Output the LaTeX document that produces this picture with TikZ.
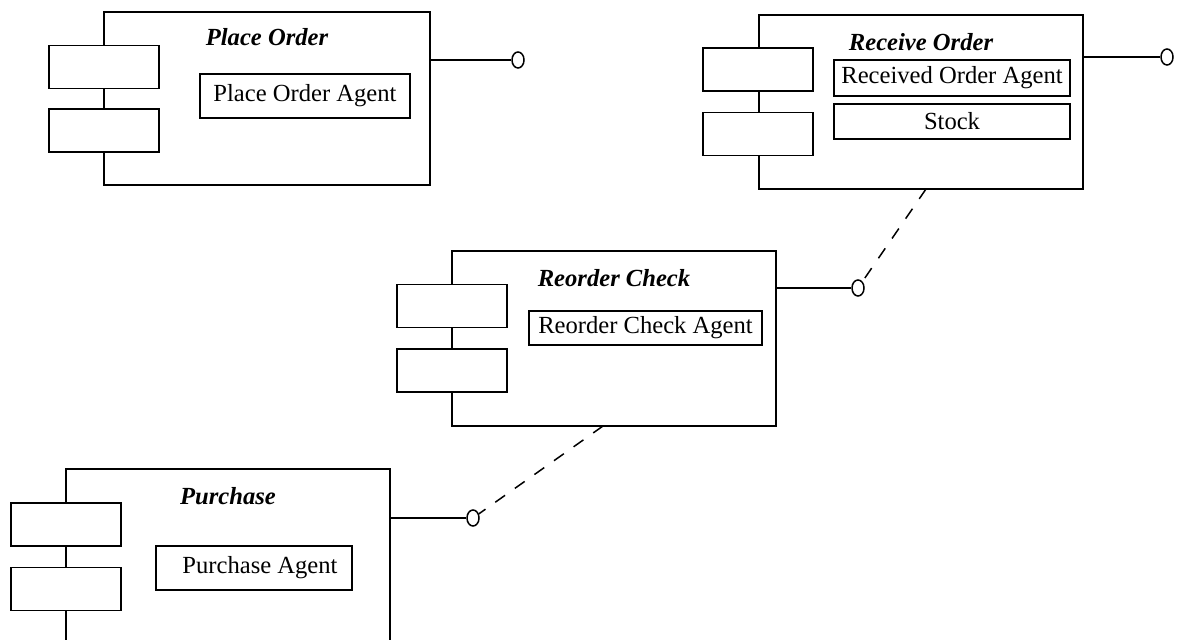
\documentclass[tikz,border=0pt]{standalone}
\usepackage{fontspec}
\setmainfont{Liberation Serif}
\usetikzlibrary{shapes.geometric}
\begin{document}
\begin{tikzpicture}[x=0.5pt,y=-0.5pt,
  line width=0.75pt,
  every node/.style={font=\fontsize{12.3}{14}\selectfont},
  compbox/.style={draw, rectangle, inner sep=0pt},
  tabbox/.style={draw, fill=white, rectangle, inner sep=0pt,
                 minimum width=55pt, minimum height=21.5pt},
  partbox/.style={draw, rectangle, inner sep=0pt},
  comptitle/.style={inner sep=0pt, font=\fontsize{12.3}{14}\selectfont\bfseries\itshape},
  portdot/.style={draw, ellipse, inner sep=0pt, minimum width=6pt, minimum height=8pt},
  depline/.style={dash pattern=on 6pt off 6pt}]

\useasboundingbox (0,0) rectangle (1181,640);

% --- Place Order component ---
\node[compbox, minimum width=163pt, minimum height=86.5pt] (po) at (267,98.5) {};
\node[tabbox] (po-t1) at (104,67) {};
\node[tabbox] (po-t2) at (104,130.5) {};
\node[comptitle] (po-name) at (267,37) {Place Order};
\node[partbox, minimum width=105pt, minimum height=22pt] (po-agent) at (305,96) {Place Order Agent};
\node[portdot] (po-port) at (518,60) {};
\draw (po.east |- po-port) -- (po-port);

% --- Receive Order component ---
\node[compbox, minimum width=162pt, minimum height=87pt] (ro) at (921,102) {};
\node[tabbox] (ro-t1) at (758,69.5) {};
\node[tabbox] (ro-t2) at (758,134) {};
\node[comptitle] (ro-name) at (921,42) {Receive Order};
\node[partbox, minimum width=118pt, minimum height=18pt] (ro-agent) at (952,78) {Received Order Agent};
\node[partbox, minimum width=118pt, minimum height=17.5pt] (ro-stock) at (952,121.5) {Stock};
\node[portdot] (ro-port) at (1167,57) {};
\draw (ro.east |- ro-port) -- (ro-port);

% --- Reorder Check component ---
\node[compbox, minimum width=162pt, minimum height=87.5pt] (rc) at (614,338.5) {};
\node[tabbox] (rc-t1) at (452,306) {};
\node[tabbox] (rc-t2) at (452,370.5) {};
\node[comptitle] (rc-name) at (614,278) {Reorder Check};
\node[partbox, minimum width=116.5pt, minimum height=17pt] (rc-agent) at (645.5,328) {Reorder Check Agent};
\node[portdot] (rc-port) at (858,288) {};
\draw (rc.east |- rc-port) -- (rc-port);

% --- Purchase component (runs past the lower edge) ---
\node[compbox, minimum width=162pt, minimum height=150pt] (pu) at (228,619) {};
\node[tabbox] (pu-t1) at (66,524.5) {};
\node[tabbox] (pu-t2) at (66,589) {};
\node[comptitle] (pu-name) at (228,496) {Purchase};
\node[partbox, minimum width=98pt, minimum height=22pt] (pu-agent) at (254,568) {\hspace*{6pt}Purchase Agent};
\node[portdot] (pu-port) at (473,518) {};
\draw (pu.east |- pu-port) -- (pu-port);

% --- dependencies on the provided interfaces ---
\coordinate (ro-foot) at (926,189);
\coordinate (rc-foot) at (603,426);
\draw[depline] (ro-foot) -- (rc-port);
\draw[depline] (rc-foot) -- (pu-port);

\end{tikzpicture}
\end{document}
